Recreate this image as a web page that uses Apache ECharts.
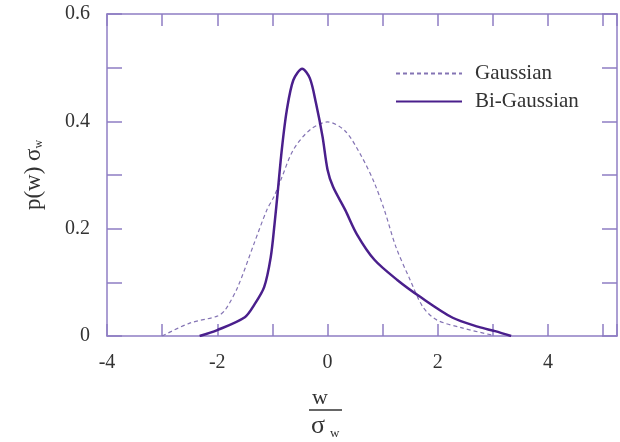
<!DOCTYPE html>
<html>
<head>
<meta charset="utf-8">
<script src="https://cdn.jsdelivr.net/npm/echarts@6/dist/echarts.min.js"></script>
<style>
  html, body { margin: 0; padding: 0; background: #fff; }
  #chart { width: 620px; height: 442px; }
</style>
</head>
<body>
<div id="chart"></div>
<script>
// values
const biX = [-2.32, -2.0, -1.5, -1.33, -1.15, -1.03, -0.96, -0.9, -0.83, -0.74, -0.62, -0.46, -0.32, -0.21, -0.09, 0.0, 0.1, 0.32, 0.53, 0.85, 1.27, 1.68, 2.27, 2.74, 3.04, 3.33]
const biY = [0, 0.011, 0.035, 0.058, 0.091, 0.147, 0.21, 0.272, 0.347, 0.42, 0.477, 0.498, 0.48, 0.434, 0.371, 0.31, 0.278, 0.235, 0.19, 0.142, 0.104, 0.073, 0.034, 0.017, 0.009, 0]
const gaussX = [-3.0, -2.5, -2.0, -1.86, -1.63, -1.33, -1.1, -0.97, -0.85, -0.62, -0.32, 0.0, 0.32, 0.62, 0.85, 1.03, 1.24, 1.5, 1.73, 1.98, 2.44, 2.97]
const gaussY = [0, 0.024, 0.037, 0.048, 0.091, 0.173, 0.235, 0.26, 0.29, 0.347, 0.384, 0.399, 0.382, 0.334, 0.285, 0.235, 0.166, 0.104, 0.054, 0.03, 0.015, 0.002]
const xLabels = [-4, -2, 0, 2, 4]
const yLabels = [0, 0.2, 0.4, 0.6]

const frame = '#8f7ec4'
const serif = "'Liberation Serif', 'Times New Roman', serif"
const zip = (xs, ys) => xs.map((x, i) => [x, ys[i]])

const xCommon = {
  type: 'value', min: -4, max: 5.25, interval: 1,
  splitLine: { show: false },
  axisLine: { show: true, onZero: false, lineStyle: { color: frame, width: 1.5 } },
  axisTick: { show: true, inside: true, length: 12, lineStyle: { color: frame, width: 1.5 } }
}
const yCommon = {
  type: 'value', min: 0, max: 0.6, interval: 0.1,
  splitLine: { show: false },
  axisLine: { show: true, onZero: false, lineStyle: { color: frame, width: 1.5 } },
  axisTick: { show: true, inside: true, length: 15, lineStyle: { color: frame, width: 1.5 } }
}

const chart = echarts.init(document.getElementById('chart'))
chart.setOption({
  animation: false,
  grid: { left: 107, right: 2, top: 14, bottom: 106 },
  legend: {
    orient: 'vertical', left: 390, top: 58, itemWidth: 66, itemHeight: 14, itemGap: 7,
    itemStyle: { opacity: 0 },
    textStyle: { fontFamily: serif, fontSize: 21, color: '#333', padding: [0, 0, 0, 8] },
    data: ['Gaussian', 'Bi-Gaussian']
  },
  xAxis: [
    { ...xCommon, position: 'bottom',
      axisLabel: { margin: 17, fontFamily: serif, fontSize: 20, color: '#333',
        formatter: v => xLabels.includes(v) ? String(v) : '' } },
    { ...xCommon, position: 'top', axisLabel: { show: false } }
  ],
  yAxis: [
    { ...yCommon, position: 'left',
      name: 'p(w) σ{s|w}', nameLocation: 'middle', nameGap: 62, nameRotate: 90,
      nameTextStyle: { fontFamily: serif, fontSize: 23, color: '#333',
        rich: { s: { fontFamily: serif, fontSize: 12, color: '#333', verticalAlign: 'bottom', padding: [8, 0, 0, 0] } } },
      axisLabel: { margin: 17, fontFamily: serif, fontSize: 20, color: '#333',
        formatter: v => yLabels.includes(+v.toFixed(1)) ? String(+v.toFixed(1)) : '' } },
    { ...yCommon, position: 'right', axisLabel: { show: false } }
  ],
  graphic: [
    { type: 'text', left: 312, top: 387, style: { text: 'w', font: '22px ' + serif, fill: '#333' } },
    { type: 'line', shape: { x1: 309, y1: 410, x2: 342, y2: 410 }, style: { stroke: '#333', lineWidth: 1.5 } },
    { type: 'text', left: 311, top: 413, style: { text: 'σ', font: '26px ' + serif, fill: '#333' } },
    { type: 'text', left: 330, top: 427, style: { text: 'w', font: '13px ' + serif, fill: '#333' } }
  ],
  series: [
    {
      name: 'Gaussian', type: 'line', showSymbol: false, symbol: 'none', smooth: 0.3,
      data: zip(gaussX, gaussY),
      lineStyle: { color: '#8474b4', width: 1.2, type: [4, 3] },
      itemStyle: { color: '#8474b4' }
    },
    {
      name: 'Bi-Gaussian', type: 'line', showSymbol: false, symbol: 'none', smooth: 0.3,
      data: zip(biX, biY),
      lineStyle: { color: '#4a1f8c', width: 2.5 },
      itemStyle: { color: '#4a1f8c' }
    }
  ]
})
</script>
</body>
</html>
